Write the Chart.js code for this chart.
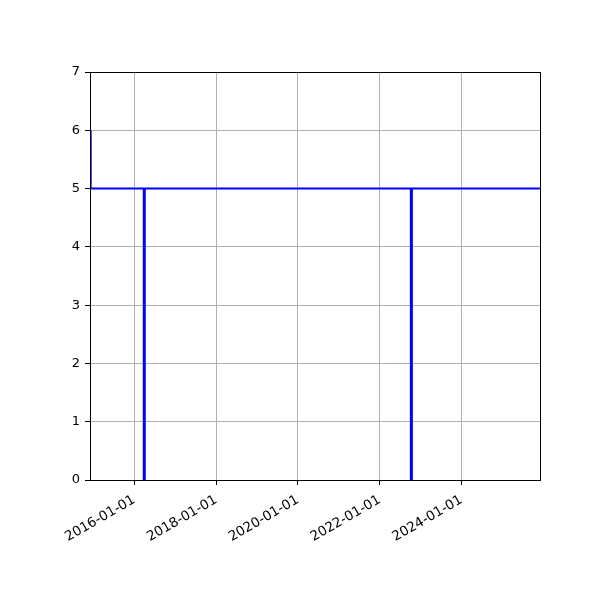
<!DOCTYPE html>
<html>
<head>
<meta charset="utf-8">
<script src="https://cdn.jsdelivr.net/npm/chart.js@4.4.1/dist/chart.umd.min.js"></script>
<style>
  html, body { margin: 0; padding: 0; background: #fff; }
  #chart { display: block; }
</style>
</head>
<body>
<canvas id="chart" width="600" height="600"></canvas>
<script>
// series: a step line that sits at 5 and dips to 0 twice
const dates = ['2014-12-08', '2014-12-08', '2016-03-26', '2016-03-26', '2016-04-04', '2016-04-04',
               '2022-10-06', '2022-10-06', '2022-10-15', '2022-10-15', '2025-12-02'];
const values = [6, 5, 5, 0, 0, 5, 5, 0, 0, 5, 5];
const tickYears = [2016, 2018, 2020, 2022, 2024];
const yTicks = [0, 1, 2, 3, 4, 5, 6, 7];
const xMin = '2014-12-02';
const xMax = '2025-12-02';

const toMs = s => Date.parse(s + 'T00:00:00Z');
const pad2 = n => String(n).padStart(2, '0');
function fmtDate(ms) {
  const d = new Date(ms);
  return d.getUTCFullYear() + '-' + pad2(d.getUTCMonth() + 1) + '-' + pad2(d.getUTCDate());
}

const tickFont = { family: "'DejaVu Sans', sans-serif", size: 13 };
const xTickFont = { family: "'DejaVu Sans', sans-serif", size: 13.5 };

// matplotlib draws all four spines; chart.js only the axis borders
const frame = {
  id: 'frame',
  afterDraw(chart) {
    const { ctx, chartArea: a } = chart;
    ctx.save();
    ctx.strokeStyle = '#000';
    ctx.lineWidth = 1;
    ctx.strokeRect(Math.round(a.left) + 0.5, Math.round(a.top) + 0.5,
                   Math.round(a.right - a.left), Math.round(a.bottom - a.top));
    ctx.restore();
  }
};

new Chart(document.getElementById('chart'), {
  type: 'line',
  data: {
    datasets: [{
      data: dates.map((d, i) => ({ x: toMs(d), y: values[i] })),
      borderColor: '#0000ff',
      borderWidth: 2,
      pointRadius: 0,
      tension: 0,
      fill: false
    }]
  },
  options: {
    responsive: false,
    animation: false,
    devicePixelRatio: 1,
    layout: { padding: { top: 72, right: 60, left: 0, bottom: 0 } },
    plugins: { legend: { display: false }, tooltip: { enabled: false } },
    scales: {
      x: {
        type: 'linear',
        min: toMs(xMin),
        max: toMs(xMax),
        afterBuildTicks: scale => {
          scale.ticks = tickYears.map(y => ({ value: Date.UTC(y, 0, 1) }));
        },
        afterFit: scale => { scale.height = 120; },
        ticks: {
          color: '#000',
          font: xTickFont,
          minRotation: 30,
          maxRotation: 30,
          padding: 7,
          autoSkip: false,
          callback: v => fmtDate(v)
        },
        grid: { color: '#b0b0b0', lineWidth: 1, tickColor: '#000', tickLength: 5 },
        border: { color: '#000', width: 1 }
      },
      y: {
        min: 0,
        max: 7,
        afterBuildTicks: scale => {
          scale.ticks = yTicks.map(v => ({ value: v }));
        },
        afterFit: scale => { scale.width = 90; },
        ticks: { color: '#000', font: tickFont, padding: 5 },
        grid: { color: '#b0b0b0', lineWidth: 1, tickColor: '#000', tickLength: 5 },
        border: { color: '#000', width: 1 }
      }
    }
  },
  plugins: [frame]
});
</script>
</body>
</html>
